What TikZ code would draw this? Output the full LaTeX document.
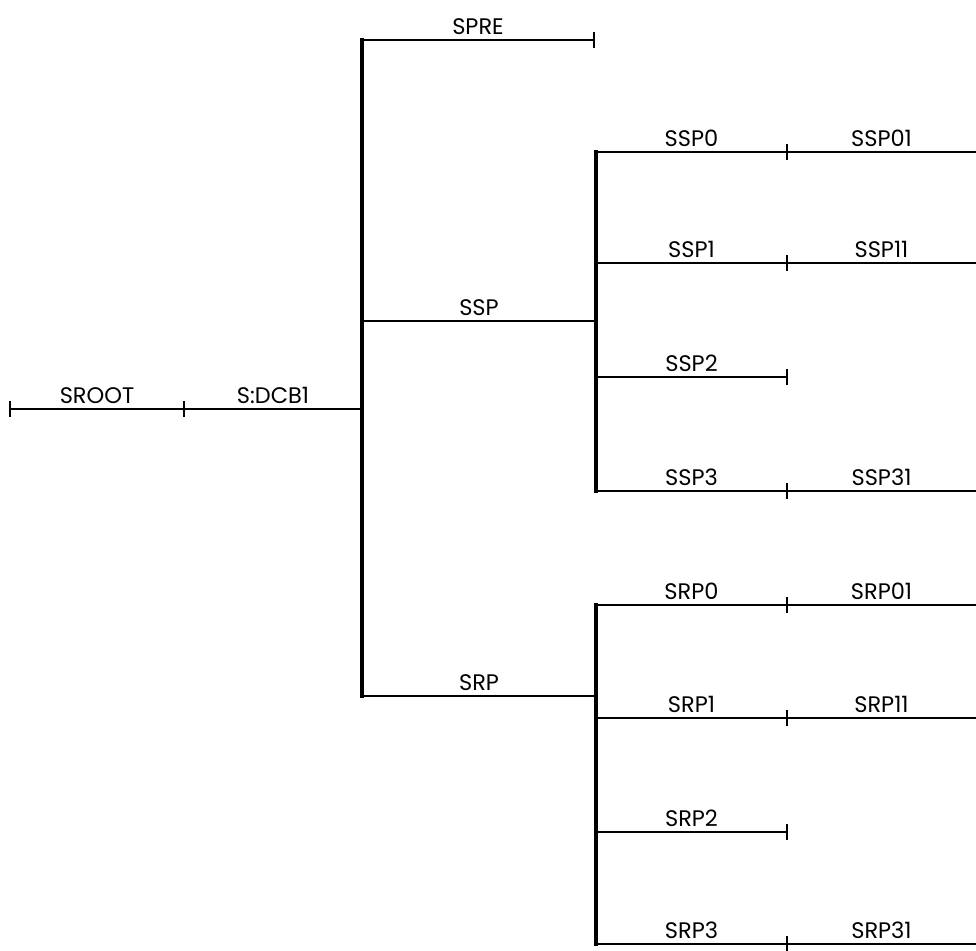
\documentclass[tikz,border=0pt]{standalone}
\usepackage{fontspec}
\setmainfont{Poppins}
\usetikzlibrary{calc}
\tikzset{
  lbl/.style={above=1pt,inner sep=2pt,font=\fontsize{16}{18}\selectfont},
  bar/.style={line width=1.5pt},
  trunk/.style={line width=2.4pt,line cap=rect}
}
\newcommand{\vtick}[1]{\draw[bar] ($(#1)+(0,-8)$) -- ($(#1)+(0,8)$);}

\begin{document}
\begin{tikzpicture}[x=0.025cm,y=-0.025cm]
  \useasboundingbox (0,0) rectangle (976,951);
  % root chain
  \coordinate (root) at (10,409);
  \coordinate (dcb) at (184,409);
  \coordinate (s) at (362,409);
  \coordinate (spre) at (362,40);
  \coordinate (spreend) at (594,40);
  \coordinate (ssp) at (362,321);
  \coordinate (srp) at (362,696);
  \draw[bar] (root) -- node[lbl] (lroot) {SROOT} (dcb);
  \draw[bar] (dcb) -- node[lbl] (ldcb) {S:DCB1} (s);
  \vtick{root} \vtick{dcb}
  \draw[trunk] (spre) -- (srp);
  \draw[bar] (spre) -- node[lbl] (lspre) {SPRE} (spreend);
  \vtick{spreend}
  % SSP branch
  \coordinate (sspx) at (596,321);
  \draw[bar] (ssp) -- node[lbl] (lssp) {SSP} (sspx);
  \foreach \k/\y/\sub in {0/152/1,1/263/1,2/377/0,3/491/1} {
    \coordinate (ssp\k) at (596,\y);
    \coordinate (ssp\k t) at (787,\y);
    \coordinate (ssp\k e) at (976,\y);
    \draw[bar] (ssp\k) -- node[lbl] (lssp\k) {SSP\k} (ssp\k t);
    \vtick{ssp\k t}
    \ifnum\sub=1
      \draw[bar] (ssp\k t) -- node[lbl] (lssp\k1) {SSP\k1} (ssp\k e);
    \fi
  }
  \draw[trunk] (ssp0) -- (ssp3);
  % SRP branch
  \coordinate (srpx) at (596,696);
  \draw[bar] (srp) -- node[lbl] (lsrp) {SRP} (srpx);
  \foreach \k/\y/\sub in {0/605/1,1/718/1,2/832/0,3/944/1} {
    \coordinate (srp\k) at (596,\y);
    \coordinate (srp\k t) at (787,\y);
    \coordinate (srp\k e) at (976,\y);
    \draw[bar] (srp\k) -- node[lbl] (lsrp\k) {SRP\k} (srp\k t);
    \vtick{srp\k t}
    \ifnum\sub=1
      \draw[bar] (srp\k t) -- node[lbl] (lsrp\k1) {SRP\k1} (srp\k e);
    \fi
  }
  \draw[trunk] (srp0) -- (srp3);
\end{tikzpicture}
\end{document}
